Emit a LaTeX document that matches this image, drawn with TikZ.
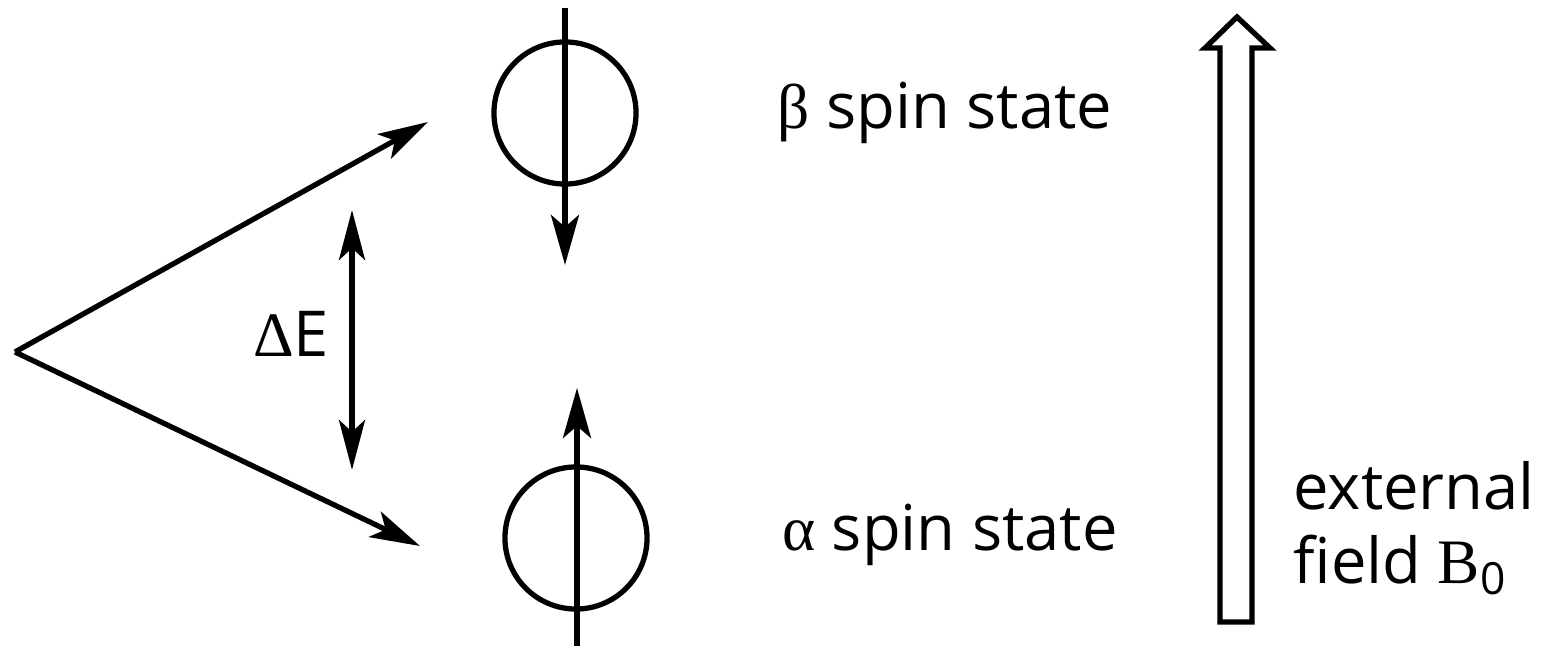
\documentclass[tikz,border=0pt]{standalone}
\usepackage{fontspec}
\setmainfont{Liberation Serif}
\setsansfont{Open Sans}
\usetikzlibrary{arrows.meta}

\begin{document}
\begin{tikzpicture}[
      x=0.01cm, y=-0.01cm,
      line width=1.5pt,
      font=\sffamily\fontsize{18}{21}\selectfont,
      spin/.style={draw, circle, minimum size=1.42cm, inner sep=0pt},
      f/.style={-{Stealth[length=5mm, width=2.8mm, inset=1.2mm]}},
      ff/.style={{Stealth[length=5mm, width=2.6mm, inset=1.2mm]}-{Stealth[length=5mm, width=2.6mm, inset=1.2mm]}},
      lbl/.style={inner sep=0pt},
    ]
    \useasboundingbox (0,0) rectangle (1544,646);

    % =============== NIVELES ==============================================
    \coordinate (apex)   at (15,352);
    \coordinate (nbeta)  at (428,122);
    \coordinate (nalpha) at (420,546);
    \draw[f] (apex) -- (nbeta);
    \draw[f] (apex) -- (nalpha);

    % --- separacion de energia ---
    \coordinate (dEbot) at (352,470);
    \coordinate (dEtop) at (352,210);
    \draw[ff] (dEbot) -- (dEtop);
    \node[lbl] (dE) at (291,334) {{\rmfamily Δ}E};

    % =============== ESPINES ==============================================
    \node[spin] (cbeta)  at (565,113) {};
    \node[spin] (calpha) at (576,538) {};
    \coordinate (btop) at (565,8);
    \coordinate (bbot) at (565,265);
    \draw[f] (btop) -- (bbot);
    \coordinate (abot) at (577,646);
    \coordinate (atop) at (577,388);
    \draw[f] (abot) -- (atop);

    % --- rotulos ---
    \node[lbl] (lbeta)  at (945,113) {{\rmfamily β} spin state};
    \node[lbl] (lalpha) at (950,535) {{\rmfamily α} spin state};

    % =============== CAMPO EXTERNO ========================================
    \draw[line join=miter] (1220,622) -- (1220,48) -- (1205,48) -- (1237,17)
      -- (1270,48) -- (1252,48) -- (1252,622) -- cycle;
    \node[lbl, align=left, anchor=west] (lfield) at (1291,528)
      {external\\field {\rmfamily B}\textsubscript{0}};
  \end{tikzpicture}
\end{document}
